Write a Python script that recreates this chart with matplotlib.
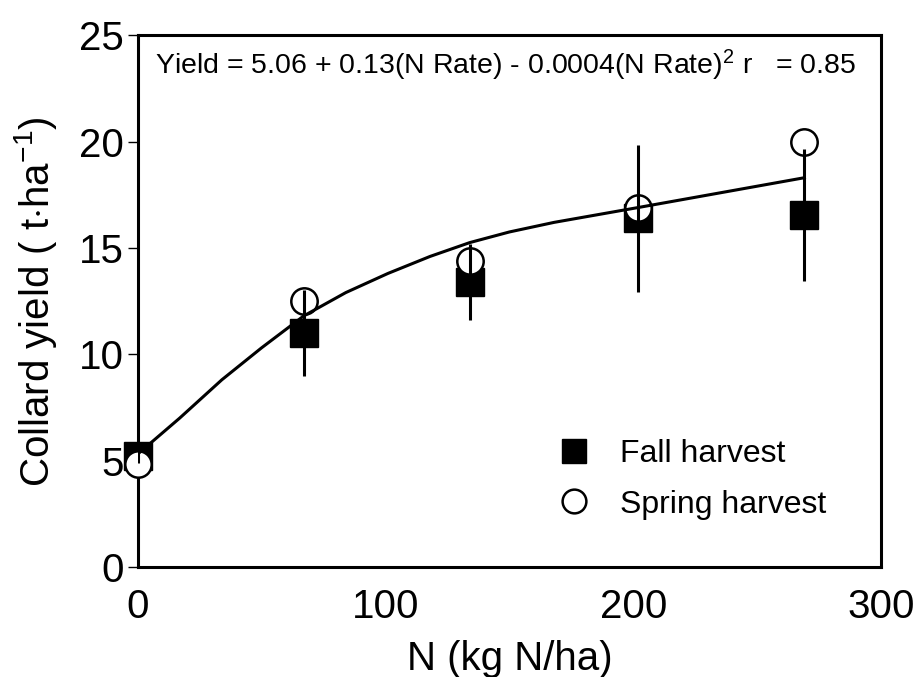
import matplotlib.pyplot as plt

plt.rcParams['font.family'] = ['Liberation Sans', 'DejaVu Sans']
plt.rcParams['mathtext.fontset'] = 'custom'
plt.rcParams['mathtext.rm'] = 'Liberation Sans'
plt.rcParams['mathtext.it'] = 'Liberation Sans'

n_rate = [0, 67, 134, 202, 269]
fall = [5.2, 11.0, 13.4, 16.4, 16.55]
fall_err = [0.3, 2.0, 1.8, 3.45, 3.1]
spring = [4.85, 12.5, 14.4, 16.9, 20.0]

# fitted line
curve_n = [0, 17, 34, 50, 67, 84, 101, 118, 134, 150, 168, 185, 202, 269]
curve_y = [5.3, 7.0, 8.8, 10.3, 11.8, 12.9, 13.8, 14.6, 15.25, 15.75, 16.2, 16.55, 16.9, 18.3]

fig = plt.figure(figsize=(9.17, 6.77), dpi=100)
ax = fig.add_axes([0.150, 0.1625, 0.811, 0.7855])

ax.plot(n_rate, fall, 's', color='black', ms=19.5, zorder=2, clip_on=False,
        label='Fall harvest')
ax.plot(n_rate, spring, 'o', mfc='white', mec='black', mew=1.8, ms=19,
        zorder=3, clip_on=False, label='Spring harvest')
ax.plot(curve_n, curve_y, '-', color='black', lw=2.2, zorder=4)
ax.errorbar(n_rate, fall, yerr=fall_err, fmt='none', ecolor='black',
            elinewidth=2.2, capsize=0, zorder=5)

ax.text(7, 23.6, 'Yield = 5.06 + 0.13(N Rate) - 0.0004(N Rate)$^{2}$ r   = 0.85',
        fontsize=20.5, va='center', ha='left')

ax.set_xlim(0, 300)
ax.set_ylim(0, 25)
ax.set_xticks([0, 100, 200, 300])
ax.set_yticks([0, 5, 10, 15, 20, 25])
ax.tick_params(axis='x', length=0, pad=15, labelsize=29)
ax.tick_params(axis='y', direction='out', length=7, width=1, pad=3, labelsize=29)
for s in ax.spines.values():
    s.set_linewidth(2.2)

ax.set_xlabel('N (kg N/ha)', fontsize=29, labelpad=10)
ax.set_ylabel('Collard yield ( t$\\cdot$ha$^{-1}$)', fontsize=29, labelpad=14)

ax.legend(loc='center left', bbox_to_anchor=(0.505, 0.165), frameon=False,
          fontsize=23, handletextpad=0.45, labelspacing=0.65, markerscale=0.9,
          numpoints=1)

fig.savefig('out.png', dpi=100)
